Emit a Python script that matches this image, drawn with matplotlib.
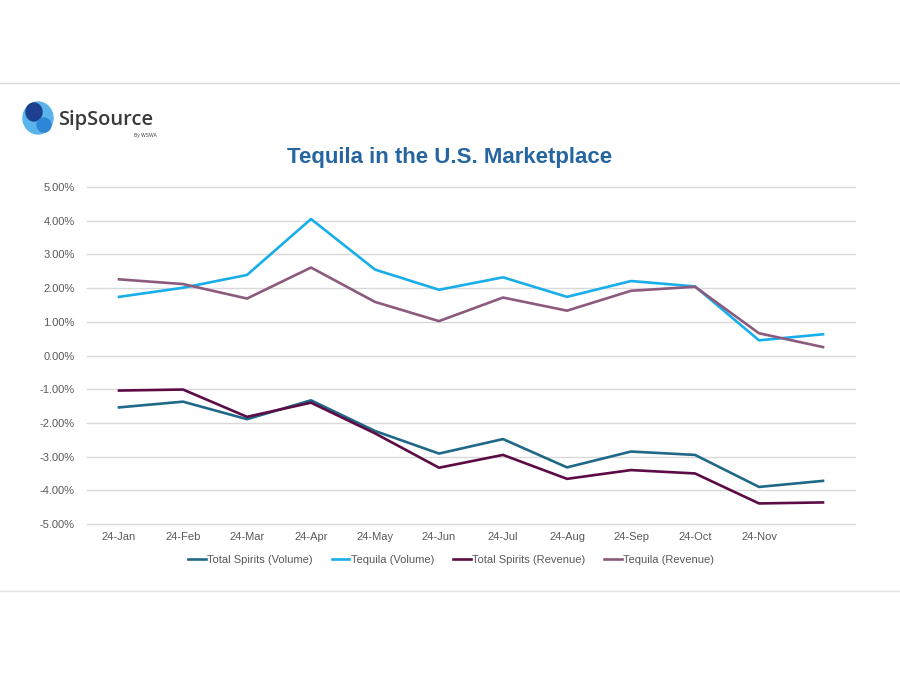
import numpy as np
import matplotlib.pyplot as plt
from matplotlib.patches import Ellipse
from matplotlib.lines import Line2D

## Datos (variación % mensual)
meses = ['24-Jan', '24-Feb', '24-Mar', '24-Apr', '24-May', '24-Jun',
         '24-Jul', '24-Aug', '24-Sep', '24-Oct', '24-Nov', '']
total_vol = [-1.54, -1.37, -1.89, -1.33, -2.24, -2.91, -2.48, -3.32, -2.85, -2.95, -3.90, -3.72]
tequila_vol = [1.74, 2.01, 2.39, 4.05, 2.55, 1.95, 2.32, 1.74, 2.21, 2.05, 0.45, 0.63]
total_rev = [-1.04, -1.01, -1.82, -1.40, -2.31, -3.33, -2.95, -3.66, -3.40, -3.50, -4.39, -4.36]
tequila_rev = [2.26, 2.12, 1.69, 2.61, 1.59, 1.02, 1.72, 1.33, 1.92, 2.04, 0.66, 0.25]

series = [
    ('Total Spirits (Volume)', total_vol, '#1F6888'),
    ('Tequila (Volume)', tequila_vol, '#17AEEA'),
    ('Total Spirits (Revenue)', total_rev, '#5C0B45'),
    ('Tequila (Revenue)', tequila_rev, '#8B5A7D'),
]

plt.rcParams['font.family'] = ['Liberation Sans', 'DejaVu Sans']

fig = plt.figure(figsize=(9, 6.75), dpi=100)

## Lineas separadoras de la diapositiva
fig.add_artist(Line2D([0, 1], [1 - 83/675, 1 - 83/675], color='#D9D9D9', lw=1))
fig.add_artist(Line2D([0, 1], [1 - 591/675, 1 - 591/675], color='#E3E3E3', lw=1))

## Logo aproximado
fig.add_artist(Ellipse((38/900, 1 - 118/675), 30/900, 32/675, color='#5AB4EC'))
fig.add_artist(Ellipse((34/900, 1 - 112/675), 16/900, 18/675, color='#1C3F8F'))
fig.add_artist(Ellipse((44/900, 1 - 125/675), 14/900, 14/675, color='#2F86D6'))
fig.text(58/900, 1 - 120/675, 'SipSource', fontsize=14.5, color='#3A3A3A',
         va='center', ha='left', family=['Open Sans', 'DejaVu Sans'], fontweight='semibold')
fig.text(157/900, 1 - 135.5/675, 'By WSWA', fontsize=3.5, color='#444444',
         va='center', ha='right')

## Titulo
fig.text(450/900, 1 - 158/675, 'Tequila in the U.S. Marketplace', fontsize=16,
         fontweight='bold', color='#2565A0', ha='center', va='center')

ax = fig.add_axes([87/900, 1 - 524/675, 768/900, 337/675])
x = np.arange(len(meses))
for nombre, valores, color in series:
    ax.plot(x, valores, color=color, lw=1.9, label=nombre)

ax.set_xlim(-0.5, len(meses) - 0.5)
ax.set_ylim(-5, 5)
ax.set_yticks(np.arange(-5, 6, 1))
ax.set_yticklabels(['%.2f%%' % v for v in np.arange(-5, 6, 1)])
ax.set_xticks(x)
ax.set_xticklabels(meses)
ax.grid(axis='y', color='#D9D9D9', lw=1)
for gl in ax.get_ygridlines():
    gl.set_clip_on(False)
ax.set_axisbelow(True)
for s in ax.spines.values():
    s.set_visible(False)
ax.tick_params(length=0, labelsize=8, colors='#595959')
ax.tick_params(axis='x', pad=6)
ax.tick_params(axis='y', pad=9)

fig.legend(loc='center', bbox_to_anchor=(451/900, 1 - 560/675), ncol=4,
           frameon=False, fontsize=8, handlelength=1.6, handletextpad=0.1,
           columnspacing=1.7, labelcolor='#595959')

plt.savefig('out.png', dpi=100)
